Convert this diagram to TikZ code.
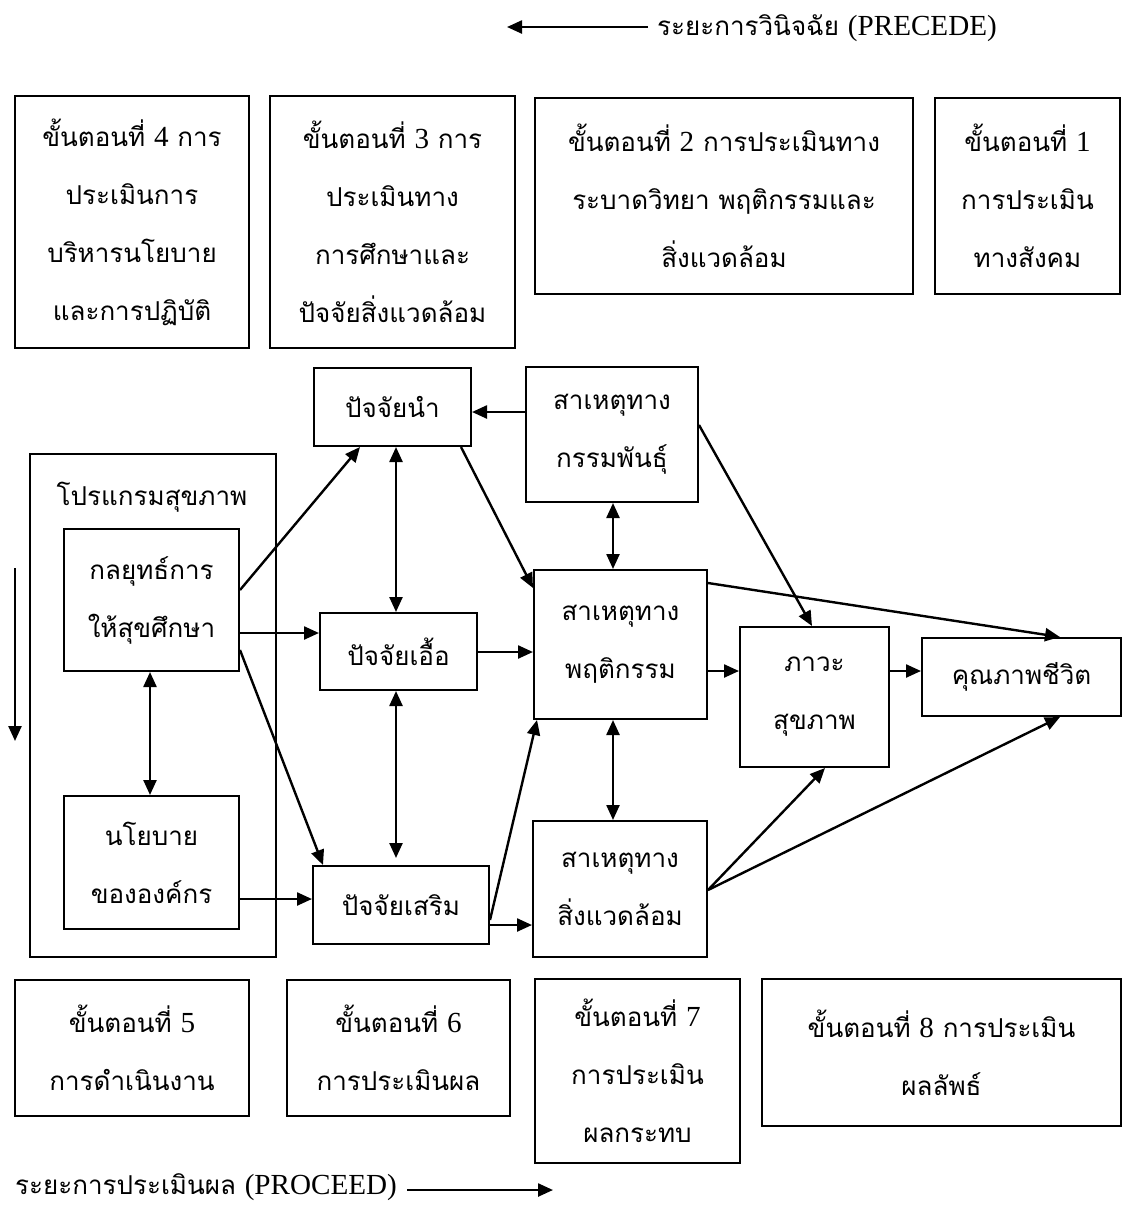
\documentclass[tikz,border=0pt]{standalone}
\usepackage{fontspec}
\setmainfont{Loma}[Script=Thai]
\newfontfamily\lat{Liberation Serif}[Scale=1.12]
\usetikzlibrary{arrows.meta}
\newcommand\thaisz{\fontsize{26}{58}\selectfont}
\begin{document}
\begin{tikzpicture}[x=1pt,y=-1pt,
  bx/.style={draw, line width=2pt, inner sep=0pt, align=center, font=\thaisz},
  lbl/.style={inner sep=0pt, font=\thaisz},
  arr/.style={line width=2.4pt, -{Triangle[length=15pt,width=13pt]}},
  darr/.style={line width=2.4pt, {Triangle[length=15pt,width=13pt]}-{Triangle[length=15pt,width=13pt]}}]
\useasboundingbox (0,0) rectangle (1123,1205);
\fill[white] (0,0) rectangle (1123,1205);

% top row of phases
\node[bx, minimum width=234pt, minimum height=252pt] (s4) at (132,222) {ขั้นตอนที่ {\lat 4} การ\\ประเมินการ\\บริหารนโยบาย\\และการปฏิบัติ};
\node[bx, minimum width=245pt, minimum height=252pt] (s3) at (392.5,222) {ขั้นตอนที่ {\lat 3} การ\\ประเมินทาง\\การศึกษาและ\\ปัจจัยสิ่งแวดล้อม};
\node[bx, minimum width=378pt, minimum height=196pt] (s2) at (724,196) {ขั้นตอนที่ {\lat 2} การประเมินทาง\\ระบาดวิทยา พฤติกรรมและ\\สิ่งแวดล้อม};
\node[bx, minimum width=185pt, minimum height=196pt] (s1) at (1027.5,196) {ขั้นตอนที่ {\lat 1}\\การประเมิน\\ทางสังคม};

% bottom row of phases
\node[bx, minimum width=234pt, minimum height=136pt] (s5) at (132,1048) {ขั้นตอนที่ {\lat 5}\\การดำเนินงาน};
\node[bx, minimum width=223pt, minimum height=136pt] (s6) at (398.5,1048) {ขั้นตอนที่ {\lat 6}\\การประเมินผล};
\node[bx, minimum width=205pt, minimum height=184pt] (s7) at (637.5,1071) {ขั้นตอนที่ {\lat 7}\\การประเมิน\\ผลกระทบ};
\node[bx, minimum width=359pt, minimum height=147pt] (s8) at (941.5,1052.5) {ขั้นตอนที่ {\lat 8} การประเมิน\\ผลลัพธ์};

% program
\node[bx, minimum width=246pt, minimum height=503pt] (prog) at (153,705.5) {};
\node[lbl] (progl) at (152,497) {โปรแกรมสุขภาพ};
\node[bx, minimum width=175pt, minimum height=142pt] (str) at (151.5,600) {กลยุทธ์การ\\ให้สุขศึกษา};
\node[bx, minimum width=175pt, minimum height=133pt] (pol) at (151.5,862.5) {นโยบาย\\ขององค์กร};

% factors
\node[bx, minimum width=157pt, minimum height=78pt] (pre) at (392.5,407) {ปัจจัยนำ};
\node[bx, minimum width=157pt, minimum height=77pt] (ena) at (398.5,651.5) {ปัจจัยเอื้อ};
\node[bx, minimum width=176pt, minimum height=78pt] (rei) at (401,905) {ปัจจัยเสริม};
\node[bx, minimum width=172pt, minimum height=135pt] (gen) at (612,434.5) {สาเหตุทาง\\กรรมพันธุ์};
\node[bx, minimum width=173pt, minimum height=149pt] (beh) at (620.5,644.5) {สาเหตุทาง\\พฤติกรรม};
\node[bx, minimum width=174pt, minimum height=136pt] (env) at (620,889) {สาเหตุทาง\\สิ่งแวดล้อม};
\node[bx, minimum width=149pt, minimum height=140pt] (hea) at (814.5,697) {ภาวะ\\สุขภาพ};
\node[bx, minimum width=199pt, minimum height=78pt] (qol) at (1021.5,677) {คุณภาพชีวิต};

% phase labels
\node[lbl, anchor=west] (prec) at (657,28) {ระยะการวินิจฉัย {\lat (PRECEDE)}};
\coordinate (precE) at (507,27);
\draw[arr, shorten <=9pt] (prec.west |- 0,27) -- (precE);
\node[lbl, anchor=west] (proc) at (15,1187) {ระยะการประเมินผล {\lat (PROCEED)}};
\coordinate (procE) at (553,1190);
\draw[arr, shorten <=10pt] (proc.east |- 0,1190) -- (procE);
\coordinate (la1) at (15,568);
\coordinate (la2) at (15,741);
\draw[arr] (la1) -- (la2);

% connectors
\draw[arr] (gen.west |- 0,412) -- (pre.east |- 0,412);
\draw[darr] (pre.south -| 396,0) -- (ena.north -| 396,0);
\draw[darr, shorten >=7pt] (ena.south -| 396,0) -- (rei.north -| 396,0);
\draw[darr] (str.south -| 150,0) -- (pol.north -| 150,0);
\draw[darr] (gen.south -| 613,0) -- (beh.north -| 613,0);
\draw[darr] (beh.south -| 613,0) -- (env.north -| 613,0);
\draw[arr] (str.east |- 0,590) -- (pre.south -| 360,0);
\draw[arr] (str.east |- 0,633) -- (ena.west |- 0,633);
\draw[arr] (str.east |- 0,650) -- (rei.north -| 323,0);
\draw[arr] (pol.east |- 0,899) -- (rei.west |- 0,899);
\draw[arr] (pre.south -| 461,0) -- (beh.west |- 0,588);
\draw[arr] (ena.east |- 0,652) -- (beh.west |- 0,652);
\draw[arr] (rei.east |- 0,920) -- (beh.south -| 537,0);
\draw[arr] (rei.east |- 0,925) -- (env.west |- 0,925);
\draw[arr] (beh.east |- 0,671) -- (hea.west |- 0,671);
\draw[arr] (beh.east |- 0,583) -- (qol.north -| 1060,0);
\draw[arr] (gen.east |- 0,425) -- (hea.north -| 812,0);
\draw[arr] (hea.east |- 0,671) -- (qol.west |- 0,671);
\draw[arr] (env.east |- 0,890) -- (hea.south -| 825,0);
\draw[arr] (env.east |- 0,890) -- (qol.south -| 1060,0);
\end{tikzpicture}
\end{document}
